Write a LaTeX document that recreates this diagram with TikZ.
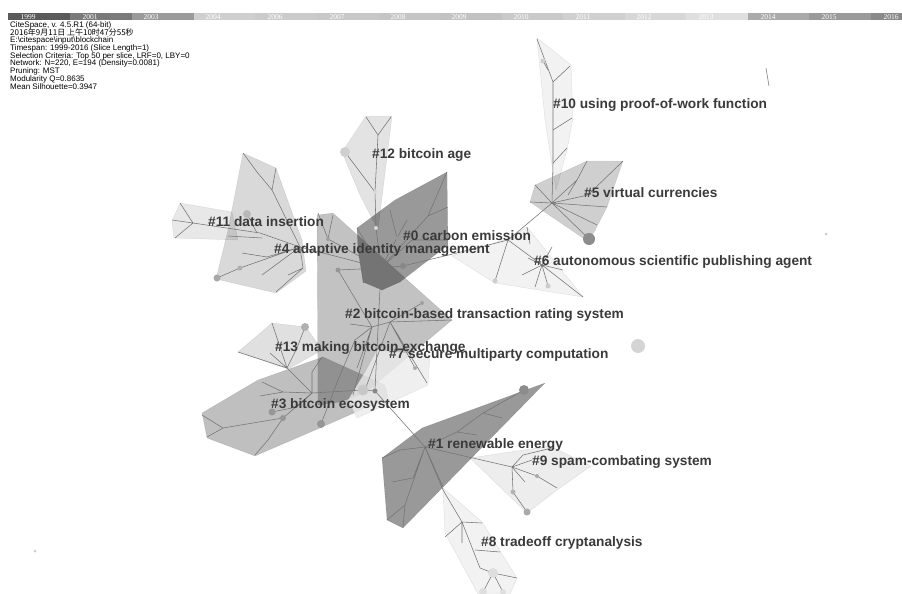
\documentclass[tikz,border=0pt]{standalone}
\usepackage{fontspec}
\setmainfont{Liberation Sans}
\newfontfamily\cjk{Noto Sans CJK SC}
\newfontfamily\yrfont{Liberation Serif}
\definecolor{labelc}{HTML}{3A3A3A}
\definecolor{edgec}{HTML}{747474}
\tikzset{
  cl/.style={fill=black, fill opacity=#1, draw=black, draw opacity=0.10, line width=0.4pt, line join=round},
  e/.style={draw=edgec, line width=0.55pt, line join=round},
  lbl/.style={font=\bfseries\fontsize{13.7}{15}\selectfont, text=labelc, anchor=west, inner sep=0pt},
  hdr/.style={font=\fontsize{8}{8}\selectfont, anchor=west, inner sep=0pt},
  yr/.style={font=\yrfont\fontsize{7.5}{7.5}\selectfont, text=white, inner sep=0pt},
  dot/.style={circle, inner sep=0pt, minimum size=#1, draw=none},
  seg/.style={draw=none}
}
\begin{document}
\begin{tikzpicture}[x=1pt,y=-1pt]
\useasboundingbox (0,0) rectangle (902,594);
\fill[white] (0,0) rectangle (902,594);
% ---------- timeline bar ----------
\fill[seg, fill={rgb,255:red,90;green,90;blue,90}] (8,13) rectangle (70,20);
\fill[seg, fill={rgb,255:red,122;green,122;blue,122}] (70,13) rectangle (132,20);
\fill[seg, fill={rgb,255:red,154;green,154;blue,154}] (132,13) rectangle (194,20);
\fill[seg, fill={rgb,255:red,207;green,207;blue,207}] (194,13) rectangle (255,20);
\fill[seg, fill={rgb,255:red,203;green,203;blue,203}] (255,13) rectangle (317,20);
\fill[seg, fill={rgb,255:red,200;green,200;blue,200}] (317,13) rectangle (379,20);
\fill[seg, fill={rgb,255:red,197;green,197;blue,197}] (379,13) rectangle (440,20);
\fill[seg, fill={rgb,255:red,194;green,194;blue,194}] (440,13) rectangle (502,20);
\fill[seg, fill={rgb,255:red,201;green,201;blue,201}] (502,13) rectangle (563,20);
\fill[seg, fill={rgb,255:red,208;green,208;blue,208}] (563,13) rectangle (625,20);
\fill[seg, fill={rgb,255:red,215;green,215;blue,215}] (625,13) rectangle (686,20);
\fill[seg, fill={rgb,255:red,223;green,223;blue,223}] (686,13) rectangle (748,20);
\fill[seg, fill={rgb,255:red,170;green,170;blue,170}] (748,13) rectangle (809,20);
\fill[seg, fill={rgb,255:red,154;green,154;blue,154}] (809,13) rectangle (871,20);
\fill[seg, fill={rgb,255:red,138;green,138;blue,138}] (871,13) rectangle (902,20);
\node[yr] (y1999) at (28,17) {1999};
\node[yr] (y2001) at (90,17) {2001};
\node[yr] (y2003) at (151,17) {2003};
\node[yr] (y2004) at (213,17) {2004};
\node[yr] (y2006) at (275,17) {2006};
\node[yr] (y2007) at (337,17) {2007};
\node[yr] (y2008) at (398,17) {2008};
\node[yr] (y2009) at (459,17) {2009};
\node[yr] (y2010) at (521,17) {2010};
\node[yr] (y2011) at (583,17) {2011};
\node[yr] (y2012) at (644,17) {2012};
\node[yr] (y2013) at (706,17) {2013};
\node[yr] (y2014) at (768,17) {2014};
\node[yr] (y2015) at (829,17) {2015};
\node[yr] (y2016) at (891,17) {2016};
% ---------- header ----------
\node[hdr] (h1l) at (10,25) {CiteSpace, v. 4.5.R1 (64-bit)};
\node[hdr] (h2l) at (10,32.8) {\cjk 2016年9月11日 上午10时47分55秒};
\node[hdr] (h3l) at (10,40.5) {E:\textbackslash citespace\textbackslash input\textbackslash blockchain};
\node[hdr] (h4l) at (10,48.3) {Timespan: 1999-2016 (Slice Length=1)};
\node[hdr] (h5l) at (10,56) {Selection Criteria: Top 50 per slice, LRF=0, LBY=0};
\node[hdr] (h6l) at (10,63.8) {Network: N=220, E=194 (Density=0.0081)};
\node[hdr] (h7l) at (10,71.5) {Pruning: MST};
\node[hdr] (h8l) at (10,79.3) {Modularity Q=0.8635};
\node[hdr] (h9l) at (10,87) {Mean Silhouette=0.3947};
% ---------- cluster hulls ----------
\path[cl=0.05] (537,38) -- (571,65) -- (573,118) -- (567,150) -- (556,190) -- (545,120) -- cycle; % #10
\path[cl=0.19] (530,202) -- (535,185) -- (587,161) -- (623,161) -- (607,207) -- (590,240) -- (583,238) -- cycle; % #5
\path[cl=0.05] (452,256) -- (510,238) -- (527,227) -- (583,297) -- (495,283) -- cycle; % #6
\path[cl=0.11] (366,116) -- (392,116) -- (378,230) -- (360,195) -- (342,152) -- cycle; % #12
\path[cl=0.09] (172,221) -- (180,203) -- (232,212) -- (238,240) -- (174,238) -- cycle; % #11
\path[cl=0.15] (243,153) -- (276,168) -- (302,240) -- (306,271) -- (276,293) -- (216,279) -- (228,230) -- cycle; % #4
\path[cl=0.24] (317,215) -- (333,213) -- (405,278) -- (452,320) -- (365,393) -- (340,402) -- (318,405) -- cycle; % #2
\path[cl=0.25] (202,413) -- (258,380) -- (323,357) -- (385,385) -- (388,398) -- (320,428) -- (255,456) -- (207,438) -- cycle; % #3
\path[cl=0.40] (357,228) -- (395,200) -- (447,172) -- (448,245) -- (400,282) -- (382,290) -- (363,282) -- (358,250) -- cycle; % #0
\path[cl=0.12] (238,352) -- (272,323) -- (306,327) -- (322,350) -- (288,369) -- cycle; % #13
\path[fill={rgb,255:red,236;green,236;blue,236}, fill opacity=0.8, draw=black, draw opacity=0.08] (377,350) -- (430,355) -- (428,385) -- (357,418) -- (348,400) -- (365,372) -- cycle; % #7
\path[cl=0.40] (545,383) -- (422,428) -- (382,458) -- (387,520) -- (403,528) -- cycle; % #1
\path[cl=0.07] (470,458) -- (550,446) -- (591,466) -- (557,490) -- (527,513) -- cycle; % #9
\path[cl=0.05] (443,488) -- (482,522) -- (517,578) -- (510,594) -- (478,594) -- (445,533) -- cycle; % #8
% ---------- hubs ----------
\coordinate (h11) at (193,223);
\coordinate (h4) at (300,247);
\coordinate (h0) at (381,268);
\coordinate (h12) at (378,135);
\coordinate (h2) at (390,322);
\coordinate (h2b) at (372,327);
\coordinate (h3) at (312,393);
\coordinate (h13) at (287,368);
\coordinate (h1) at (425,447);
\coordinate (h9) at (512,467);
\coordinate (h5) at (552,203);
\coordinate (h10) at (553,82);
\coordinate (h6) at (542,265);
\coordinate (j56) at (508,240);
% ---------- tree edges ----------
% #11 / #4
\draw[e] (180,203) -- (h11) (172,220) -- (h11) (175,238) -- (h11);
\draw[e] (h11) -- (260,233) -- (h4) -- (h0);
\draw[e] (243,153) -- (257,172) -- (272,190) -- (h4) (276,168) -- (272,190);
\draw[e] (h4) -- (240,268) -- (217,278) (h4) -- (267,257) -- (242,253);
\draw[e] (h4) -- (303,268) -- (276,292) (303,268) -- (288,275) (h4) -- (262,275);
\draw[e] (247,214) -- (257,233) (228,236) -- (262,238);
% #12
\draw[e] (366,117) -- (h12) (391,117) -- (h12) (h12) -- (375,192) -- (376,228) -- (h0) (345,152) -- (375,192);
% #0
\draw[e] (h0) -- (357,228) (h0) -- (397,238) -- (390,210) (397,238) -- (407,220);
\draw[e] (h0) -- (428,216) -- (447,172) (428,216) -- (448,207) (h0) -- (412,240) -- (448,240);
\draw[e] (h0) -- (363,283) (h0) -- (383,290) (h0) -- (400,282) (h0) -- (362,252);
\draw[e] (h0) -- (403,266) -- (457,253) -- (j56);
% #10 / #5 / #6
\draw[e] (537,39) -- (553,82) (570,66) -- (h10) (h10) -- (553,130) -- (553,163) -- (h5);
\draw[e] (553,130) -- (572,118) (553,163) -- (567,148) (543,61) -- (548,70);
\draw[e] (h5) -- (535,185) (h5) -- (530,202) (h5) -- (577,180) -- (587,161) (577,180) -- (568,195);
\draw[e] (h5) -- (588,195) -- (623,161) (h5) -- (607,207) (h5) -- (597,225) (h5) -- (589,239);
\draw[e] (h5) -- (j56) -- (h6) (j56) -- (495,281) (527,227) -- (530,244);
\draw[e] (h6) -- (522,275) (h6) -- (535,287) (h6) -- (548,286) (h6) -- (563,270) (h6) -- (552,247) (h6) -- (583,297) (h6) -- (528,258);
% #2
\draw[e] (318,213) -- (328,239) -- (h0) (333,215) -- (328,239);
\draw[e] (338,270) -- (h0) (338,270) -- (h2b) -- (h2);
\draw[e] (h0) -- (375,390) (h2) -- (452,320) (h2) -- (422,303) (h2b) -- (350,324);
\draw[e] (h2) -- (415,368) (h2) -- (427,383) (h2) -- (365,390) (h2b) -- (357,368) (h2b) -- (353,395);
\draw[e] (321,424) -- (338,380) -- (355,340) -- (h2b);
% #13
\draw[e] (272,323) -- (h13) (238,352) -- (h13) (270,353) -- (h13) (305,327) -- (297,348) -- (h13);
\draw[e] (h13) -- (h3);
% #3
\draw[e] (h3) -- (363,390) -- (375,391) -- (h1);
\draw[e] (262,382) -- (283,392) -- (h3) (260,396) -- (283,392);
\draw[e] (272,412) -- (297,407) -- (h3) (202,415) -- (223,428) (207,437) -- (223,428);
\draw[e] (223,428) -- (283,418) -- (h3) (283,418) -- (268,440) -- (255,455);
\draw[e] (h3) -- (312,372) -- (322,357);
% #1
\draw[e] (h1) -- (457,432) -- (483,413) -- (524,390) (457,432) -- (477,435) (483,413) -- (502,418);
\draw[e] (h1) -- (400,450) -- (382,458) (h1) -- (413,478) -- (392,482) (h1) -- (405,505) -- (403,527) (405,505) -- (387,520);
\draw[e] (h1) -- (443,487) (h1) -- (432,463) (h1) -- (h9);
% #9
\draw[e] (h9) -- (523,455) -- (552,448) (h9) -- (537,476) -- (557,488) (h9) -- (513,492) -- (527,512);
\draw[e] (h9) -- (525,482) (h9) -- (532,460);
% #8
\draw[e] (h1) -- (443,490) -- (462,522) -- (480,568) -- (493,573) -- (503,592) (493,573) -- (483,592);
\draw[e] (462,522) -- (482,523) (462,522) -- (445,537) (462,522) -- (462,543) (475,550) -- (500,552) (493,573) -- (517,578);
% isolated
\draw[e] (766,68) -- (769,86);
% ---------- dots ----------
\node[dot=12pt, fill={rgb,255:red,140;green,140;blue,140}] (d1) at (589,239) {};
\node[dot=10pt, fill={rgb,255:red,140;green,140;blue,140}] (d2) at (524,390) {};
\node[dot=14pt, fill={rgb,255:red,212;green,212;blue,212}] (d3) at (638,346) {};
\node[dot=10pt, fill={rgb,255:red,207;green,207;blue,207}] (d4) at (345,152) {};
\node[dot=7pt, fill={rgb,255:red,168;green,168;blue,168}] (d5) at (217,278) {};
\node[dot=5pt, fill={rgb,255:red,176;green,176;blue,176}] (d6) at (240,268) {};
\node[dot=8pt, fill={rgb,255:red,184;green,184;blue,184}] (d7) at (247,214) {};
\node[dot=8pt, fill={rgb,255:red,176;green,176;blue,176}] (d8) at (305,327) {};
\node[dot=11pt, fill={rgb,255:red,200;green,200;blue,200}] (d9) at (363,390) {};
\node[dot=7pt, fill={rgb,255:red,150;green,150;blue,150}] (d10) at (272,412) {};
\node[dot=6pt, fill={rgb,255:red,150;green,150;blue,150}] (d11) at (283,418) {};
\node[dot=8pt, fill={rgb,255:red,150;green,150;blue,150}] (d12) at (321,424) {};
\node[dot=6pt, fill={rgb,255:red,136;green,136;blue,136}] (d13) at (403,266) {};
\node[dot=5pt, fill={rgb,255:red,150;green,150;blue,150}] (d14) at (338,270) {};
\node[dot=4pt, fill={rgb,255:red,160;green,160;blue,160}] (d15) at (328,239) {};
\node[dot=4pt, fill={rgb,255:red,170;green,170;blue,170}] (d16) at (537,476) {};
\node[dot=7pt, fill={rgb,255:red,170;green,170;blue,170}] (d17) at (527,512) {};
\node[dot=5pt, fill={rgb,255:red,180;green,180;blue,180}] (d18) at (513,492) {};
\node[dot=10pt, fill={rgb,255:red,222;green,222;blue,222}] (d19) at (493,573) {};
\node[dot=8pt, fill={rgb,255:red,222;green,222;blue,222}] (d20) at (483,592) {};
\node[dot=6pt, fill={rgb,255:red,222;green,222;blue,222}] (d21) at (503,592) {};
\node[dot=5pt, fill={rgb,255:red,205;green,205;blue,205}] (d22) at (495,281) {};
\node[dot=5pt, fill={rgb,255:red,205;green,205;blue,205}] (d23) at (548,286) {};
\node[dot=5pt, fill={rgb,255:red,205;green,205;blue,205}] (d24) at (543,61) {};
\node[dot=3pt, fill={rgb,255:red,205;green,205;blue,205}] (d25) at (826,234) {};
\node[dot=3pt, fill={rgb,255:red,205;green,205;blue,205}] (d26) at (35,551) {};
\node[dot=4pt, fill={rgb,255:red,160;green,160;blue,160}] (d27) at (422,303) {};
\node[dot=4pt, fill={rgb,255:red,170;green,170;blue,170}] (d28) at (415,368) {};
\node[dot=5pt, fill={rgb,255:red,136;green,136;blue,136}] (d29) at (375,391) {};
\node[dot=4pt, fill={rgb,255:red,215;green,215;blue,215}] (d30) at (375,192) {};
\node[dot=4pt, fill={rgb,255:red,215;green,215;blue,215}] (d31) at (376,228) {};
\node[dot=4pt, fill={rgb,255:red,150;green,150;blue,150}] (d32) at (397,238) {};
% ---------- labels ----------
\node[lbl] (l10) at (553,105) {\#10 using proof-of-work function};
\node[lbl] (l12) at (372,155) {\#12 bitcoin age};
\node[lbl] (l5) at (584,193) {\#5 virtual currencies};
\node[lbl] (l11) at (208,222) {\#11 data insertion};
\node[lbl] (l0) at (403,236) {\#0 carbon emission};
\node[lbl] (l4) at (274,250) {\#4 adaptive identity management};
\node[lbl] (l6) at (534,262) {\#6 autonomous scientific publishing agent};
\node[lbl] (l2) at (345,315) {\#2 bitcoin-based transaction rating system};
\node[lbl] (l13) at (275,348) {\#13 making bitcoin exchange};
\node[lbl] (l7) at (389,355) {\#7 secure multiparty computation};
\node[lbl] (l3) at (271,405) {\#3 bitcoin ecosystem};
\node[lbl] (l1) at (428,445) {\#1 renewable energy};
\node[lbl] (l9) at (532,462) {\#9 spam-combating system};
\node[lbl] (l8) at (481,543) {\#8 tradeoff cryptanalysis};
\end{tikzpicture}
\end{document}
